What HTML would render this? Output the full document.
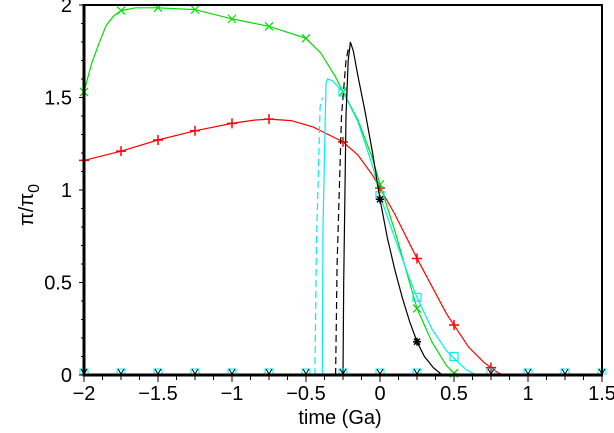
<!DOCTYPE html>
<html><head><meta charset="utf-8"><style>
html,body{margin:0;padding:0;background:#fff;width:614px;height:433px;overflow:hidden}
svg{display:block}
text{font-family:"Liberation Sans",sans-serif;font-size:20px;fill:#000}
</style></head><body>
<svg id="s" width="614" height="433" viewBox="0 0 614 433" xmlns="http://www.w3.org/2000/svg">
<g id="g"></g>
<text x="340" y="424" text-anchor="middle" font-size="22">time (Ga)</text>
<text transform="translate(33,205) rotate(-90)" text-anchor="middle" font-size="24">π/π<tspan font-size="16" dy="6">0</tspan></text>
</svg>
<script>
const X=t=>84+148*(t+2), Y=v=>375-185*v;
let h='';
function pl(pts,c,extra=''){h+=`<polyline fill="none" stroke="${c}" stroke-width="1.2" ${extra} points="${pts.map(p=>X(p[0]).toFixed(1)+','+Y(p[1]).toFixed(1)).join(' ')}"/>`;}
function plus(t,v,c){const x=X(t),y=Y(v);h+=`<path d="M${x-5},${y}h10M${x},${y-5}v10" stroke="${c}" stroke-width="1.5"/>`;}
function cross(t,v,c){const x=X(t),y=Y(v);h+=`<path d="M${x-4},${y-4}l8,8M${x+4},${y-4}l-8,8" stroke="${c}" stroke-width="1.2"/>`;}
function sq(t,v,c){const x=X(t),y=Y(v);h+=`<rect x="${x-4}" y="${y-4}" width="8" height="8" fill="none" stroke="${c}" stroke-width="1.2"/>`;}
function star(t,v,c){const x=X(t),y=Y(v);h+=`<path d="M${x-4},${y}h8M${x},${y-4}v8M${x-3},${y-3}l6,6M${x+3},${y-3}l-6,6" stroke="${c}" stroke-width="1.5"/>`;}
const red=[[-2,1.16],[-1.75,1.21],[-1.5,1.27],[-1.25,1.32],[-1,1.36],[-0.85,1.378],[-0.75,1.383],[-0.6,1.375],[-0.45,1.34],[-0.35,1.30],[-0.25,1.26],[-0.15,1.19],[-0.05,1.08],[0,1.01],[0.1,0.87],[0.2,0.71],[0.25,0.63],[0.35,0.48],[0.45,0.33],[0.5,0.27],[0.6,0.15],[0.7,0.07],[0.75,0.04],[0.8,0.01],[0.84,0]];
pl(red,'#f00');
[-2,-1.75,-1.5,-1.25,-1,-0.75,-0.25,0,0.25,0.5,0.75].forEach(t=>{const p=red.find(q=>q[0]==t);plus(t,p[1],'#f00');});
const gr=[[-2,1.53],[-1.95,1.68],[-1.9,1.79],[-1.85,1.89],[-1.8,1.94],[-1.75,1.97],[-1.65,1.985],[-1.5,1.985],[-1.25,1.975],[-1,1.925],[-0.75,1.885],[-0.5,1.82],[-0.4,1.74],[-0.3,1.61],[-0.25,1.53],[-0.15,1.38],[-0.05,1.17],[0,1.03],[0.1,0.78],[0.2,0.5],[0.25,0.36],[0.35,0.18],[0.45,0.05],[0.5,0.01],[0.55,0]];
pl(gr,'#0d0');
[-2,-1.75,-1.5,-1.25,-1,-0.75,-0.5,-0.25,0,0.25,0.5].forEach(t=>{const p=gr.find(q=>q[0]==t);cross(t,p[1],'#0d0');});
pl([[-2,0],[-0.39,0],[-0.385,0.8],[-0.365,1.58],[-0.355,1.6],[-0.32,1.59],[-0.25,1.53],[-0.15,1.37],[-0.05,1.13],[0,0.97],[0.1,0.74],[0.2,0.52],[0.25,0.42],[0.35,0.25],[0.45,0.13],[0.5,0.09],[0.58,0.03],[0.65,0]],'#0ee');
pl([[-0.44,0],[-0.43,0.7],[-0.405,1.45],[-0.39,1.5]],'#0ee','stroke-dasharray="7,4"');
sq(-0.25,1.53,'#0ee');sq(0,0.97,'#0ee');sq(0.25,0.42,'#0ee');sq(0.5,0.1,'#0ee');
pl([[-0.25,0],[-0.245,0.5],[-0.23,1.4],[-0.215,1.7],[-0.2,1.8],[-0.18,1.75],[-0.15,1.62],[-0.1,1.42],[-0.05,1.2],[0,0.95],[0.05,0.74],[0.1,0.57],[0.15,0.42],[0.2,0.29],[0.25,0.18],[0.3,0.1],[0.36,0.04],[0.42,0]],'#000');
pl([[-0.3,0],[-0.29,0.6],[-0.26,1.4],[-0.23,1.7],[-0.215,1.76]],'#000','stroke-dasharray="7,4"');
star(0,0.95,'#000');star(0.25,0.18,'#000');
for(let t=-2;t<=1.51;t+=0.25){if(Math.abs(t-0.5)<0.01){cross(t,0.01,'#0d0');continue;}const x=X(t),y=373;h+=`<rect x="${x-4}" y="${y-4}" width="8" height="5" fill="none" stroke="#0ee" stroke-width="1"/><path d="M${x-3},${y-4}l3,5l3,-5" stroke="#000" fill="none" stroke-width="1"/>`;}
for(let i=0;i<=28;i++){const t=-2+i*0.125,x=X(t);h+=`<path d="M${x},376v${i%4==0?6:4}" stroke="#000" stroke-width="1"/>`;}
for(let i=0;i<=20;i++){const y=Y(i*0.1);h+=`<path d="M84,${y}h-${i%5==0?5:3}" stroke="#000" stroke-width="1"/>`;}
h+=`<path d="M84,5H602V375" stroke="#000" stroke-width="2" fill="none"/><path d="M84,4V375H603" stroke="#000" stroke-width="3" fill="none"/>`;
[[-2,'−2'],[-1.5,'−1.5'],[-1,'−1'],[-0.5,'−0.5'],[0,'0'],[0.5,'0.5'],[1,'1'],[1.5,'1.5']].forEach(([t,s])=>{h+=`<text x="${X(t)}" y="400" text-anchor="middle">${s}</text>`;});
[[0,'0'],[0.5,'0.5'],[1,'1'],[1.5,'1.5'],[2,'2']].forEach(([v,s])=>{h+=`<text x="72" y="${Y(v)+7}" text-anchor="end">${s}</text>`;});
document.getElementById('g').innerHTML=h;
</script>
</body></html>
